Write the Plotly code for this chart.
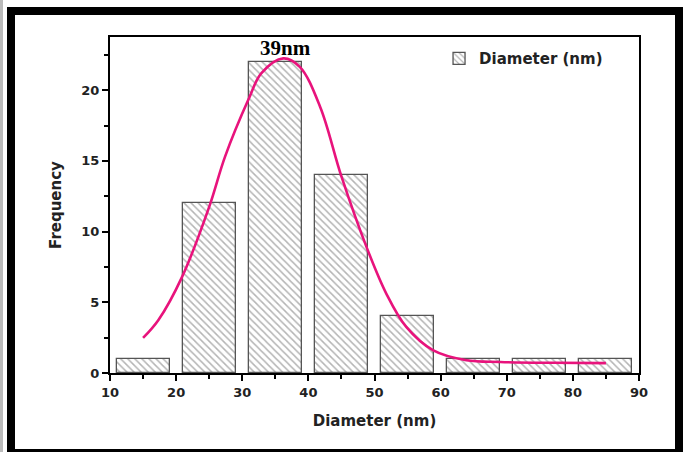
import plotly.graph_objects as go

# data
bin_centers = [15, 25, 35, 45, 55, 65, 75, 85]
frequency = [1, 12, 22, 14, 4, 1, 1, 1]
fit_x = [15, 17.3, 20.9, 25.0, 27.4, 30.9, 32.9, 36.2, 38.7, 41.8, 45.0, 48.8, 51.8, 54.8, 58.9, 63.9, 69.0, 77.0, 85.0]
fit_y = [2.48, 3.73, 6.8, 11.75, 15.3, 19.3, 21.2, 22.25, 21.65, 18.8, 13.9, 8.9, 5.6, 3.26, 1.6, 0.9, 0.78, 0.72, 0.7]
x_ticks = [10, 20, 30, 40, 50, 60, 70, 80, 90]
y_ticks = [0, 5, 10, 15, 20]

W, H = 685, 452
L, R, T, B = 110, 639, 37, 373

fig = go.Figure()
fig.add_trace(go.Bar(
    x=bin_centers, y=frequency, width=8, name="Diameter (nm)",
    marker=dict(color="white", line=dict(color="#555", width=1.3),
                pattern=dict(shape="\\", fgcolor="#6a6a6a", bgcolor="white", size=5, solidity=0.3)),
))
fig.add_trace(go.Scatter(
    x=fit_x, y=fit_y, mode="lines", line=dict(color="#e8137c", width=2.6, shape="spline", smoothing=1.0),
    showlegend=False, hoverinfo="skip",
))

FAM = "DejaVu Sans"
font_tick = dict(family=FAM, size=13, color="#222", weight="bold")
font_title = dict(family=FAM, size=15, color="#222", weight="bold")
fig.update_xaxes(range=[10, 90], tickvals=x_ticks, ticks="outside", ticklen=6, tickwidth=2,
                 showline=True, linewidth=2, linecolor="black", mirror=True, showgrid=False, zeroline=False,
                 minor=dict(dtick=5, ticks="outside", ticklen=4, tickwidth=2, tickcolor="black"),
                 tickfont=font_tick, tickcolor="black",
                 title=dict(text="Diameter (nm)", font=font_title, standoff=17))
fig.update_yaxes(range=[0, 23.76], tickvals=y_ticks, ticks="outside", ticklen=6, tickwidth=2,
                 showline=True, linewidth=2, linecolor="black", mirror=True, showgrid=False, zeroline=False,
                 minor=dict(dtick=2.5, ticks="outside", ticklen=4, tickwidth=2, tickcolor="black"),
                 tickfont=font_tick, tickcolor="black",
                 title=dict(text="Frequency", font=font_title, standoff=16))

fig.add_annotation(x=36.6, y=22.95, text="<b>39nm</b>", showarrow=False,
                   font=dict(family="Liberation Serif", size=21, color="black"))

def px(x):
    return (x - L) / (R - L)

def py(y):
    return (B - y) / (B - T)

# outer thick frame
fig.add_shape(type="rect", xref="paper", yref="paper",
              x0=px(11), x1=px(679), y0=py(453), y1=py(11),
              line=dict(color="black", width=8), fillcolor="rgba(0,0,0,0)", layer="below")
fig.add_shape(type="line", xref="paper", yref="paper",
              x0=px(1.5), x1=px(1.5), y0=py(452), y1=py(0),
              line=dict(color="#bbbbbb", width=3))

fig.update_layout(
    width=W, height=H, margin=dict(l=L, r=W - R, t=T, b=H - B),
    paper_bgcolor="white", plot_bgcolor="white",
    bargap=0,
    legend=dict(x=0.622, y=0.985, xanchor="left", yanchor="top", bgcolor="rgba(0,0,0,0)",
                font=dict(family=FAM, size=15, color="#222", weight="bold")),
)

fig.write_html("out.html")
